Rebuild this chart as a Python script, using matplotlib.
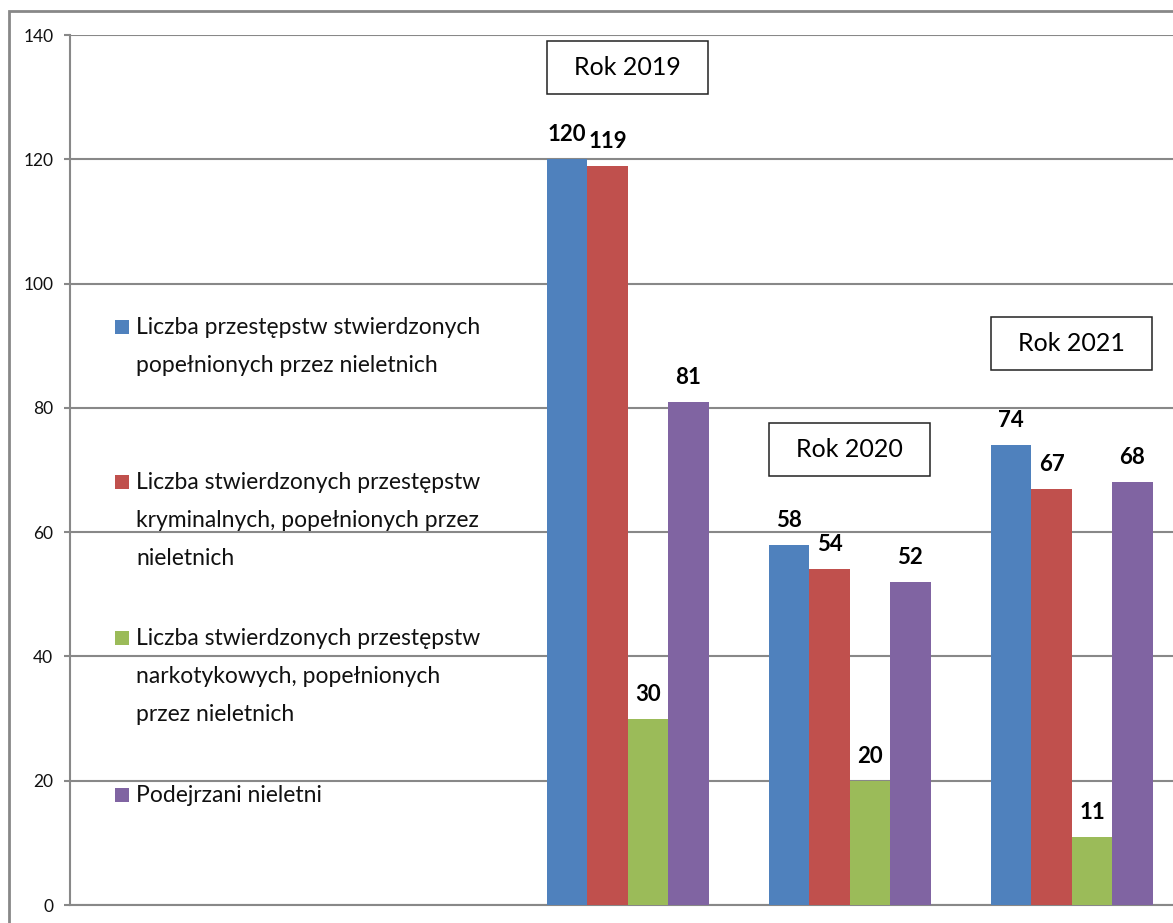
import matplotlib
matplotlib.use("Agg")
import matplotlib.pyplot as plt
from matplotlib.patches import Rectangle
import numpy as np

# ---- data ----
years = ["Rok 2019", "Rok 2020", "Rok 2021"]
n_empty = 2  # two empty leading categories on the x axis
series_labels = [
    "Liczba przestępstw stwierdzonych\npopełnionych przez nieletnich",
    "Liczba stwierdzonych przestępstw\nkryminalnych, popełnionych przez\nnieletnich",
    "Liczba stwierdzonych przestępstw\nnarkotykowych, popełnionych\nprzez nieletnich",
    "Podejrzani nieletni",
]
przestepstwa = [120, 58, 74]
kryminalne = [119, 54, 67]
narkotykowe = [30, 20, 11]
podejrzani = [81, 52, 68]
series_values = [przestepstwa, kryminalne, narkotykowe, podejrzani]
colors = ["#4F81BD", "#C0504D", "#9BBB59", "#8064A2"]
y_ticks = [0, 20, 40, 60, 80, 100, 120, 140]
box_y = [134.7, 73.3, 90.4]  # vertical centre of year label boxes

FONT = "Lato"
W, H = 1173, 923
fig = plt.figure(figsize=(W / 100, H / 100), dpi=100)
fig.patch.set_facecolor("white")

ax_left, ax_right, ax_top, ax_bottom = 70, 1173, 35, 905
ax = fig.add_axes([ax_left / W, (H - ax_bottom) / H, (ax_right - ax_left) / W, (ax_bottom - ax_top) / H])

x = np.arange(len(years)) + n_empty
bw = 0.182
offsets = (np.arange(4) - 1.5) * bw
for vals, off, col in zip(series_values, offsets, colors):
    bars = ax.bar(x + off, vals, width=bw, color=col, edgecolor="none", zorder=3)
    for b, v in zip(bars, vals):
        ax.annotate(str(v), (b.get_x() + b.get_width() / 2, v), xytext=(0, 18),
                    textcoords="offset pixels", ha="center", va="baseline",
                    fontsize=16, fontweight="bold", family=FONT, color="black", zorder=5)

# year boxes
bw_box = 161 / 222
bh_box = 53 / (870 / 140)
for xi, yc, lab in zip(x, box_y, years):
    ax.add_patch(Rectangle((xi - bw_box / 2, yc - bh_box / 2), bw_box, bh_box,
                           facecolor="white", edgecolor="#222222", lw=1.1, zorder=6))
    ax.text(xi, yc, lab, ha="center", va="center", fontsize=18, family=FONT, color="black", zorder=7)

ax.set_xlim(-0.512, 4.456)
ax.set_ylim(0, 140)
ax.set_yticks(y_ticks)
ax.set_yticklabels([str(t) for t in y_ticks], fontsize=12.5, family=FONT, color="#111111")
ax.set_xticks([])
ax.tick_params(axis="y", direction="out", length=4, width=1.5, color="#888888", pad=8)
ax.set_axisbelow(True)
ax.yaxis.grid(True, color="#888888", lw=1.5)
for s in ["top", "right"]:
    ax.spines[s].set_visible(False)
for s in ["left", "bottom"]:
    ax.spines[s].set_color("#888888")
    ax.spines[s].set_linewidth(1.5)

# legend (manual)
leg_sq_y = [327, 482, 638, 795]
line_gap = 38
for lab, col, sy in zip(series_labels, colors, leg_sq_y):
    fig.patches.append(Rectangle((115 / W, 1 - (sy + 7) / H), 14 / W, 14 / H,
                                 transform=fig.transFigure, facecolor=col, edgecolor="none"))
    for k, line in enumerate(lab.split("\n")):
        base = sy + 7 + k * line_gap
        fig.text(136 / W, 1 - base / H, line, ha="left", va="baseline",
                 fontsize=16.5, family=FONT, color="#111111")

# outer chart frame
fig.patches.append(Rectangle((9 / W, -0.2), 1.5, 1.2 - 11 / H, transform=fig.transFigure,
                             facecolor="none", edgecolor="#888888", lw=2))

fig.savefig("out.png", dpi=100)
